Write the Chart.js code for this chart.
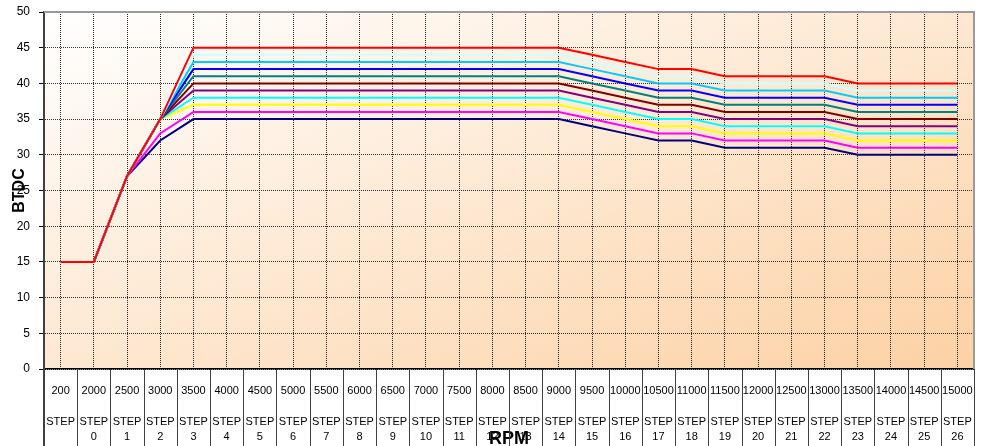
<!DOCTYPE html>
<html>
<head>
<meta charset="utf-8">
<script src="https://cdn.jsdelivr.net/npm/chart.js@4/dist/chart.umd.min.js"></script>
<style>
  html, body { margin: 0; padding: 0; background: #fff; }
  #wrap { width: 984px; height: 446px; position: relative; }
</style>
</head>
<body>
<div id="wrap"><canvas id="chart"></canvas></div>
<script>
// rpm points and step names (x axis table)
const rpm = [200, 2000, 2500, 3000, 3500, 4000, 4500, 5000, 5500, 6000, 6500, 7000, 7500, 8000,
             8500, 9000, 9500, 10000, 10500, 11000, 11500, 12000, 12500, 13000, 13500, 14000, 14500, 15000];
const steps = ['', '0', '1', '2', '3', '4', '5', '6', '7', '8', '9', '10', '11', '12',
               '13', '14', '15', '16', '17', '18', '19', '20', '21', '22', '23', '24', '25', '26'];
const yTicks = [0, 5, 10, 15, 20, 25, 30, 35, 40, 45, 50];

// advance curves (BTDC degrees), one per map
const map45 = [15,15,27,35,45,45,45,45,45,45,45,45,45,45,45,45,44,43,42,42,41,41,41,41,40,40,40,40];
const map44 = [15,15,27,35,44,44,44,44,44,44,44,44,44,44,44,44,43,42,41,41,40,40,40,40,39,39,39,39];
const map43 = [15,15,27,35,43,43,43,43,43,43,43,43,43,43,43,43,42,41,40,40,39,39,39,39,38,38,38,38];
const map42 = [15,15,27,35,42,42,42,42,42,42,42,42,42,42,42,42,41,40,39,39,38,38,38,38,37,37,37,37];
const map41 = [15,15,27,35,41,41,41,41,41,41,41,41,41,41,41,41,40,39,38,38,37,37,37,37,36,36,36,36];
const map40 = [15,15,27,35,40,40,40,40,40,40,40,40,40,40,40,40,39,38,37,37,36,36,36,36,35,35,35,35];
const map39 = [15,15,27,35,39,39,39,39,39,39,39,39,39,39,39,39,38,37,36,36,35,35,35,35,34,34,34,34];
const map38 = [15,15,27,35,38,38,38,38,38,38,38,38,38,38,38,38,37,36,35,35,34,34,34,34,33,33,33,33];
const map37 = [15,15,27,35,37,37,37,37,37,37,37,37,37,37,37,37,36,35,34,34,33,33,33,33,32,32,32,32];
const map36 = [15,15,27,33,36,36,36,36,36,36,36,36,36,36,36,36,35,34,33,33,32,32,32,32,31,31,31,31];
const map35 = [15,15,27,32,35,35,35,35,35,35,35,35,35,35,35,35,34,33,32,32,31,31,31,31,30,30,30,30];

const series = [
    { name: 'MAP 45', data: map45, color: '#FF0000' },
    { name: 'MAP 44', data: map44, color: '#CCFFFF' },
    { name: 'MAP 43', data: map43, color: '#00CCFF' },
    { name: 'MAP 42', data: map42, color: '#0000FF' },
    { name: 'MAP 41', data: map41, color: '#008080' },
    { name: 'MAP 40', data: map40, color: '#800000' },
    { name: 'MAP 39', data: map39, color: '#800080' },
    { name: 'MAP 38', data: map38, color: '#00FFFF' },
    { name: 'MAP 37', data: map37, color: '#FFFF00' },
    { name: 'MAP 36', data: map36, color: '#FF00FF' },
    { name: 'MAP 35', data: map35, color: '#000080' }
];

const labels = rpm.map((r, i) => [String(r), '', 'STEP', steps[i]]);

// plot background + frame + table lines under the axis
const frame = {
    id: 'frame',
    beforeDraw(chart) {
        const { ctx, chartArea: a } = chart;
        ctx.save();
        // diagonal fill in normalised plot space (corner to corner)
        ctx.translate(a.left, a.top);
        ctx.scale(a.right - a.left, a.bottom - a.top);
        const g = ctx.createLinearGradient(0, 0, 1, 1);
        g.addColorStop(0, '#FFFFFF');
        g.addColorStop(1, '#FCD1A4');
        ctx.fillStyle = g;
        ctx.fillRect(0, 0, 1, 1);
        ctx.restore();
    },
    afterDraw(chart) {
        const { ctx, chartArea: a } = chart;
        const x = chart.scales.x;
        const colW = (a.right - a.left) / rpm.length;
        ctx.save();
        ctx.strokeStyle = '#9a9a9a';
        ctx.lineWidth = 2;
        ctx.beginPath();
        ctx.moveTo(a.left, a.top);
        ctx.lineTo(a.right, a.top);
        ctx.lineTo(a.right, a.bottom);
        ctx.stroke();

        ctx.strokeStyle = '#404040';
        ctx.lineWidth = 1;
        ctx.beginPath();
        for (let i = 0; i < rpm.length; i++) {
            const px = Math.round(x.getPixelForValue(i) + colW / 2) + 0.5;
            ctx.moveTo(px, a.bottom);
            ctx.lineTo(px, chart.height);
        }
        ctx.stroke();
        ctx.lineWidth = 2;
        ctx.beginPath();
        ctx.moveTo(a.left, a.bottom);
        ctx.lineTo(a.left, chart.height);
        ctx.stroke();
        ctx.restore();
    }
};

new Chart(document.getElementById('chart'), {
    type: 'line',
    data: {
        labels: labels,
        datasets: series.map(s => ({
            label: s.name,
            data: s.data,
            borderColor: s.color,
            backgroundColor: s.color,
            borderWidth: 2,
            pointRadius: 0,
            tension: 0,
            fill: false
        }))
    },
    options: {
        responsive: true,
        maintainAspectRatio: false,
        animation: false,
        devicePixelRatio: 1,
        layout: { padding: { top: 12, right: 10, left: 0, bottom: 0 } },
        plugins: {
            legend: { display: false },
            tooltip: { enabled: false }
        },
        scales: {
            x: {
                type: 'category',
                offset: true,
                afterFit(scale) {
                    scale.height = 77;
                    scale.paddingLeft = 0;
                    scale.paddingRight = 0;
                },
                grid: {
                    offset: false,
                    color: 'rgba(0,0,0,0.85)',
                    lineWidth: 1,
                    drawTicks: false
                },
                border: { color: '#000', width: 1.5, dash: [1, 1] },
                ticks: {
                    autoSkip: false,
                    maxRotation: 0,
                    minRotation: 0,
                    padding: 14,
                    color: '#000',
                    font: { family: 'Liberation Sans, Arial, sans-serif', size: 11, lineHeight: 1.4 }
                },
                title: {
                    display: true,
                    text: 'RPM',
                    color: '#000',
                    padding: { top: 0, bottom: -4 },
                    font: { family: 'Liberation Sans, Arial, sans-serif', size: 18, weight: 'bold', lineHeight: 1.2 }
                }
            },
            y: {
                min: 0,
                max: 50,
                afterFit(scale) {
                    scale.width = 44;
                    scale.paddingTop = 0;
                    scale.paddingBottom = 0;
                },
                afterBuildTicks(scale) { scale.ticks = yTicks.map(v => ({ value: v })); },
                grid: {
                    color: 'rgba(0,0,0,0.8)',
                    lineWidth: 1,
                    tickLength: 5,
                    tickColor: '#000',
                    tickBorderDash: []
                },
                border: { color: '#404040', width: 2, dash: [1, 1] },
                ticks: {
                    padding: 9,
                    color: '#000',
                    font: { family: 'Liberation Sans, Arial, sans-serif', size: 12 }
                },
                title: {
                    display: true,
                    text: 'BTDC',
                    color: '#000',
                    padding: { top: 10, bottom: 0 },
                    font: { family: 'Liberation Sans, Arial, sans-serif', size: 16, weight: 'bold', lineHeight: 1.2 }
                }
            }
        }
    },
    plugins: [frame]
});
</script>
</body>
</html>
